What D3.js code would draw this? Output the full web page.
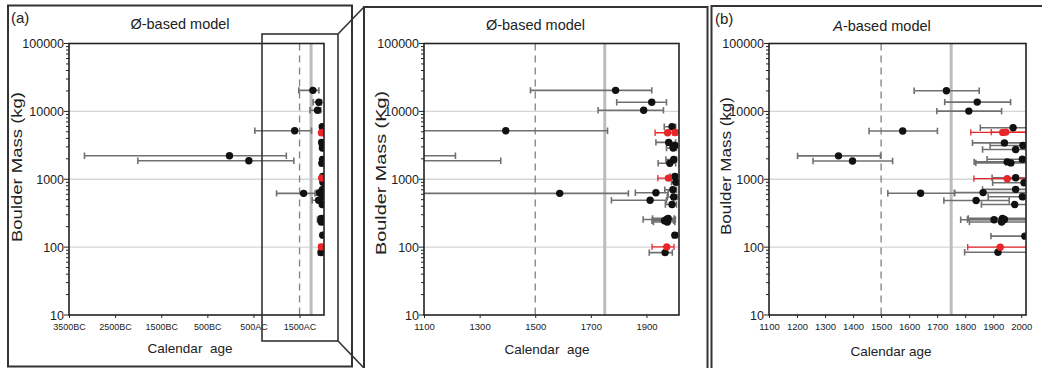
<!DOCTYPE html>
<html><head><meta charset="utf-8">
<script src="https://cdn.jsdelivr.net/npm/d3@7"></script>
<style>
body{margin:0;background:#fff}
svg{display:block}
text{font-family:"Liberation Sans",Arial,Helvetica,sans-serif;fill:#222}
</style>
</head><body>
<svg id="c" width="1042" height="368"></svg>
<script>
// ---------- Ø-based model (panels a, zoom) ----------
const phiMass = [20400,13600,10400,5170,2220,1870,620,5930,4840,4890,3490,2890,3150,1950,1720,1040,1100,900,634,700,490,547,424,255,265,235,245,150,101,83];
const phiAge  = [1789,1919,1890,1394,-20,400,1588,1992,1976,2003,1980,1996,2002,1998,1984,1979,2002,2006,1934,1995,1913,1998,1992,1972,1978,1975,1965,2002,1973,1967];
const phiLo   = [1483,1793,1726,530,-3164,-2007,1001,1964,1931,1995,1934,1972,1985,1970,1942,1941,1985,1990,1860,1966,1774,1975,1968,1888,1922,1925,1920,1995,1920,1910];
const phiHi   = [1919,1972,1961,1760,1213,1376,1835,2005,2005,2010,2005,2008,2010,2008,2005,2005,2010,2012,1978,2008,1972,2010,2008,2004,2000,2002,1998,2010,1999,1993];
const phiRed  = [0,0,0,0,0,0,0,0,1,1,0,0,0,0,0,1,0,0,0,0,0,0,0,0,0,0,0,0,1,0];

// ---------- A-based model (panel b) ----------
const aMass = [20100,13700,10100,5150,2210,1860,622,5750,4900,4950,3430,3140,2740,1970,1800,1740,1050,1020,890,636,710,551,486,425,253,265,255,235,145,100,84];
const aAge  = [1733,1843,1813,1577,1348,1398,1641,1971,1934,1945,1940,2006,1980,2004,1950,1963,1980,1950,2010,1864,1980,2004,1839,1977,1903,1933,1940,1930,2013,1925,1917];
const aLo   = [1618,1727,1699,1457,1202,1257,1524,1854,1820,1893,1826,1889,1862,1878,1832,1838,1896,1831,1898,1762,1862,1882,1724,1858,1784,1811,1808,1815,1892,1809,1798];
const aHi   = [1850,1962,1930,1701,1498,1541,1762,2040,2040,2040,2040,2040,2040,2040,2040,2040,2040,2040,2040,2040,2040,2040,1957,2040,2040,2040,2040,2040,2040,2040,2040];
const aRed  = [0,0,0,0,0,0,0,0,1,1,0,0,0,0,0,0,0,1,0,0,0,0,0,0,0,0,0,0,0,1,0];

// ---------- axes ----------
const yDomain = [10,100000];
const yTickVals = [10,100,1000,10000,100000];
const gridVals = [100,1000,10000];
const refDashed = 1500, refSolid = 1750;
const bcTicks = [-3500,-2500,-1500,-500,500,1500];
const bcLabels = ["3500BC","2500BC","1500BC","500BC","500AC","1500AC"];
const zoomTicks = [1100,1300,1500,1700,1900];
const aTicks = [1100,1200,1300,1400,1500,1600,1700,1800,1900,2000];

const svg = d3.select("#c");
const RED = "#e8262a", BAR = "#707070";

// panel frames
const frames = svg.append("g").attr("fill","none").attr("stroke","#333").attr("stroke-width",2);
frames.append("rect").attr("x",8).attr("y",5.5).attr("width",344).attr("height",361);
frames.append("rect").attr("x",364).attr("y",7).attr("width",343.5).attr("height",370);
frames.append("rect").attr("x",711.5).attr("y",6).attr("width",340).attr("height",370);

function panel(o){
  const g = svg.append("g");
  const x = o.x, y = d3.scaleLog().domain(yDomain).range([315,43.5]);
  const [x0,x1] = x.range(), [yb,yt] = y.range();
  const cid = "clip"+o.id;
  g.append("clipPath").attr("id",cid).append("rect").attr("x",x0).attr("y",yt).attr("width",x1-x0).attr("height",yb-yt);
  const p = g.append("g").attr("clip-path",`url(#${cid})`);
  p.selectAll("line.grid").data(gridVals).join("line").attr("class","grid")
    .attr("x1",x0).attr("x2",x1).attr("y1",d=>y(d)).attr("y2",d=>y(d))
    .attr("stroke","#d6d6d6").attr("stroke-width",1.3);
  p.append("line").attr("x1",x(refDashed)).attr("x2",x(refDashed)).attr("y1",yt).attr("y2",yb)
    .attr("stroke","#808080").attr("stroke-width",1.3).attr("stroke-dasharray","7,5");
  p.append("line").attr("x1",x(refSolid)).attr("x2",x(refSolid)).attr("y1",yt).attr("y2",yb)
    .attr("stroke","#bcbcbc").attr("stroke-width",3);
  const data = o.mass.map((m,i)=>({m,a:o.age[i],lo:o.lo[i],hi:o.hi[i],red:o.red[i]}));
  const sorted = data.slice().sort((a,b)=>a.red-b.red);
  const eb = p.selectAll("g.eb").data(sorted).join("g")
    .attr("stroke",d=>d.red?RED:BAR).attr("stroke-width",d=>d.red?1.3:1.6);
  eb.append("line").attr("x1",d=>x(d.lo)).attr("x2",d=>x(d.hi)).attr("y1",d=>y(d.m)).attr("y2",d=>y(d.m));
  eb.append("line").attr("x1",d=>x(d.lo)).attr("x2",d=>x(d.lo)).attr("y1",d=>y(d.m)-3.2).attr("y2",d=>y(d.m)+3.2);
  eb.append("line").attr("x1",d=>x(d.hi)).attr("x2",d=>x(d.hi)).attr("y1",d=>y(d.m)-3.2).attr("y2",d=>y(d.m)+3.2);
  p.selectAll("circle").data(sorted).join("circle")
    .attr("cx",d=>x(d.a)).attr("cy",d=>y(d.m)).attr("r",3.7)
    .attr("fill",d=>d.red?RED:"#111");
  g.append("rect").attr("x",x0).attr("y",yt).attr("width",x1-x0).attr("height",yb-yt)
    .attr("fill","none").attr("stroke","#222").attr("stroke-width",1.6);
  // y axis
  const ya = d3.axisLeft(y).tickValues(yTickVals).tickFormat(d3.format("d")).tickSize(0).tickPadding(5);
  const yg = g.append("g").attr("transform",`translate(${x0},0)`).call(ya);
  yg.select(".domain").remove();
  yg.selectAll("text").style("font-size","12.5px").attr("fill","#222")
    .style("font-family",'"Liberation Sans",Arial,sans-serif');
  const minor = y.ticks().filter(v=>!yTickVals.includes(v));
  g.selectAll("line.minor").data(minor).join("line").attr("class","minor")
    .attr("x1",x0-3).attr("x2",x0).attr("y1",d=>y(d)).attr("y2",d=>y(d)).attr("stroke","#222").attr("stroke-width",1);
  g.selectAll("line.major").data(yTickVals).join("line").attr("class","major")
    .attr("x1",x0-5).attr("x2",x0).attr("y1",d=>y(d)).attr("y2",d=>y(d)).attr("stroke","#222").attr("stroke-width",1);
  // x axis
  const xa = d3.axisBottom(x).tickValues(o.ticks).tickFormat(o.fmt).tickSize(3).tickPadding(o.tickPad);
  const xg = g.append("g").attr("transform",`translate(0,${yb})`).call(xa);
  xg.select(".domain").remove();
  xg.selectAll("line").attr("stroke","#222");
  xg.selectAll("text").style("font-size",o.tickFont).attr("fill","#222")
    .style("font-family",'"Liberation Sans",Arial,sans-serif');
  // labels
  g.append("text").attr("x",o.xlx).attr("y",o.xly).attr("text-anchor","middle")
    .style("font-size","13.5px").style("white-space","pre").text(o.xLabel);
  g.append("text").attr("transform",`translate(${o.ylx},${o.yly}) rotate(-90)`).attr("text-anchor","middle")
    .style("font-size",o.ylFont).attr("textLength",o.ylLen).attr("lengthAdjust","spacingAndGlyphs").text(o.yLabel);
  const t = g.append("text").attr("x",o.tx).attr("y",o.ty).attr("text-anchor","middle").style("font-size","14.5px");
  if(o.italic){ t.append("tspan").style("font-style","italic").text(o.italic); t.append("tspan").text(o.title); }
  else t.text(o.title);
  if(o.letter) g.append("text").attr("x",o.lx).attr("y",o.ly).style("font-size","15px").text(o.letter);
}

panel({id:"a", x:d3.scaleLinear().domain([-3500,2030]).range([69,324]),
  mass:phiMass, age:phiAge, lo:phiLo, hi:phiHi, red:phiRed,
  ticks:bcTicks, fmt:(d,i)=>bcLabels[i], tickFont:"9px", tickPad:6,
  xLabel:"Calendar  age", xlx:190, xly:353, yLabel:"Boulder Mass (kg)", ylx:22, yly:167, ylFont:"15px", ylLen:150,
  title:"Ø-based model", tx:180, ty:29, letter:"(a)", lx:11, ly:23});

panel({id:"z", x:d3.scaleLinear().domain([1100,2017]).range([424,679]),
  mass:phiMass, age:phiAge, lo:phiLo, hi:phiHi, red:phiRed,
  ticks:zoomTicks, fmt:d3.format("d"), tickFont:"9.5px", tickPad:5,
  xLabel:"Calendar  age", xlx:547, xly:354, yLabel:"Boulder Mass (Kg)", ylx:386, yly:173, ylFont:"15.5px", ylLen:164,
  title:"Ø-based model", tx:535.5, ty:30});

panel({id:"b", x:d3.scaleLinear().domain([1100,2017]).range([769,1026]),
  mass:aMass, age:aAge, lo:aLo, hi:aHi, red:aRed,
  ticks:aTicks, fmt:d3.format("d"), tickFont:"9.5px", tickPad:5,
  xLabel:"Calendar age", xlx:891, xly:356, yLabel:"Boulder Mass (kg)", ylx:731, yly:166, ylFont:"14.5px", ylLen:138,
  title:"-based model", italic:"A", tx:882, ty:30.5, letter:"(b)", lx:715, ly:24});

// zoom box and connectors
const zb = svg.append("g").attr("fill","none").attr("stroke","#333").attr("stroke-width",1.6);
zb.append("rect").attr("x",262).attr("y",34).attr("width",76).attr("height",307);
zb.append("line").attr("x1",338).attr("y1",34).attr("x2",364).attr("y2",7);
zb.append("line").attr("x1",338).attr("y1",341).attr("x2",364).attr("y2",368);
</script>
</body></html>
